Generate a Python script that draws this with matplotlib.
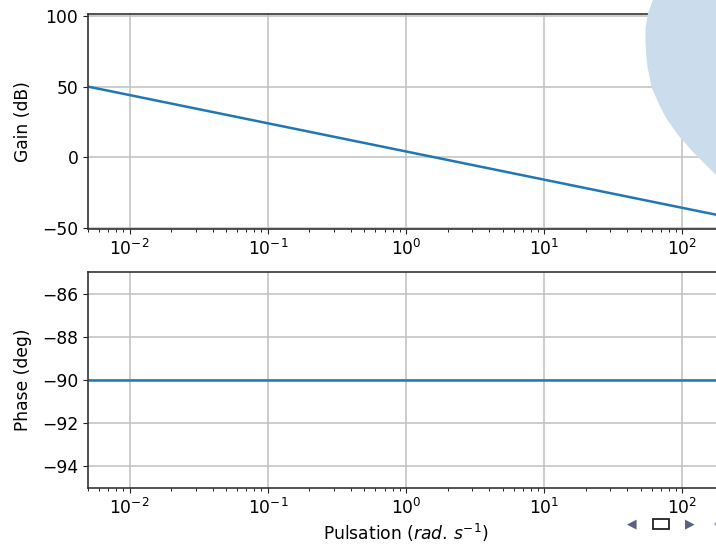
import matplotlib
matplotlib.use("Agg")
import matplotlib.pyplot as plt
from matplotlib.patches import Polygon, Rectangle

# Data
omega = [0.005, 0.01, 0.1, 1.0, 10.0, 100.0, 200.0]
gain_db = [50.0, 44.0, 24.0, 4.0, -16.0, -36.0, -42.0]
phase_deg = [-90.0, -90.0, -90.0, -90.0, -90.0, -90.0, -90.0]

xlim = (0.005, 200)
gain_lim = (-51, 101.5)
phase_lim = (-95, -85)
gain_ticks = [-50, 0, 50, 100]
phase_ticks = [-94, -92, -90, -88, -86]

W, H = 716, 544
fig = plt.figure(figsize=(W / 100, H / 100), dpi=100)

# background decoration (light blue blob) behind transparent axes, pixel coords
blob_px = [(653, 0), (648, 13), (645.5, 28), (645.5, 43), (646.3, 56),
           (647.5, 67), (651.5, 87), (658, 102), (666, 118), (678, 135),
           (693, 152), (709, 168), (716, 175), (716, 0)]
blob = Polygon([(x, H - y) for x, y in blob_px], closed=True, transform=None,
               facecolor="#cbdcec", edgecolor="none", zorder=0)
fig.patches.append(blob)

fs = 12.3
ax1 = fig.add_axes([88 / W, 1 - 229 / H, (724 - 88) / W, (229 - 14) / H])
ax2 = fig.add_axes([88 / W, 1 - 488 / H, (724 - 88) / W, (488 - 272) / H])

for ax in (ax1, ax2):
    ax.set_facecolor("none")
    ax.set_xscale("log")
    ax.set_xlim(*xlim)
    ax.grid(True, which="major", color="#c0c0c0", linewidth=1.1)
    ax.tick_params(labelsize=fs, color="#222222")
    for sp in ax.spines.values():
        sp.set_color("#333333")
        sp.set_linewidth(1.2)

ax1.plot(omega, gain_db, color="#1f77b4", linewidth=1.8)
ax1.set_ylim(*gain_lim)
ax1.set_yticks(gain_ticks)
ax1.set_ylabel("Gain (dB)", fontsize=fs)

ax2.plot(omega, phase_deg, color="#1f77b4", linewidth=1.8)
ax2.set_ylim(*phase_lim)
ax2.set_yticks(phase_ticks)
ax2.set_ylabel("Phase (deg)", fontsize=fs)
ax2.set_xlabel(r"Pulsation ($rad.\,s^{-1}$)", fontsize=fs, labelpad=3)

for ax in (ax1, ax2):
    ax.yaxis.set_label_coords(-0.088, 0.5)

# navigation icons at bottom right
fig.text(632 / W, 1 - 524 / H, "\u25C0", color="#5b5f82", fontsize=9,
         ha="center", va="center")
fig.text(690 / W, 1 - 524 / H, "\u25B6", color="#5b5f82", fontsize=9,
         ha="center", va="center")
fig.patches.append(Polygon([(714, H - 524), (717, H - 521), (717, H - 527)],
                           closed=True, transform=None,
                           facecolor="#9a9cb0", edgecolor="none"))
fig.patches.append(Rectangle((653, H - 529), 16, 10, transform=None,
                             facecolor="none", edgecolor="#222222",
                             linewidth=1.3))

fig.savefig("out.png", dpi=100)
